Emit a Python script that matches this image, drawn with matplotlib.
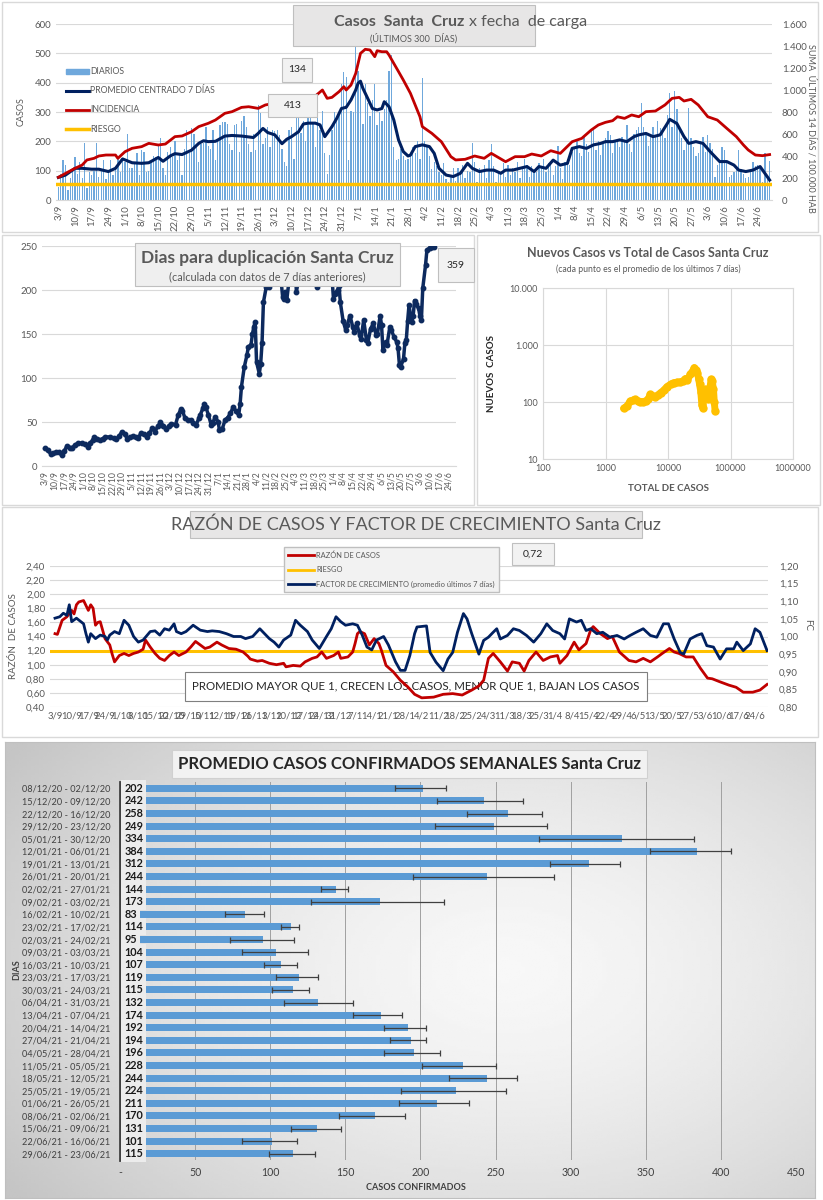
import numpy as np
import matplotlib
matplotlib.use('Agg')
import matplotlib.pyplot as plt
from matplotlib.patches import Rectangle
from matplotlib.lines import Line2D
from matplotlib.ticker import FuncFormatter

plt.rcParams['font.family'] = ['Lato', 'DejaVu Sans']

W, H = 823, 1200
GREY = '#595959'
NAVY = '#002060'
RED = '#c00000'
YEL = '#ffc000'
BLUE = '#5b9bd5'

# ================= datos =================
fechas = ['3/9', '10/9', '17/9', '24/9', '1/10', '8/10', '15/10', '22/10', '29/10', '5/11',
          '12/11', '19/11', '26/11', '3/12', '10/12', '17/12', '24/12', '31/12', '7/1', '14/1',
          '21/1', '28/1', '4/2', '11/2', '18/2', '25/2', '4/3', '11/3', '18/3', '25/3', '1/4',
          '8/4', '15/4', '22/4', '29/4', '6/5', '13/5', '20/5', '27/5', '3/6', '10/6', '17/6', '24/6']

# casos diarios (3/9/20 a 29/6/21), una semana por fila
diarios = [45, 90, 138, 120, 35, 75, 105,
           145, 90, 130, 75, 195, 40, 95,
           85, 100, 195, 80, 100, 135, 70,
           95, 135, 85, 110, 140, 95, 135,
           130, 225, 110, 108, 130, 160, 85,
           170, 165, 95, 100, 130, 150, 145,
           185, 210, 110, 85, 165, 180, 145,
           200, 135, 155, 85, 175, 240, 160,
           245, 225, 180, 130, 190, 195, 250,
           185, 175, 240, 135, 200, 255, 265,
           265, 260, 190, 170, 255, 260, 165,
           270, 285, 250, 190, 165, 225, 170,
           325, 295, 190, 210, 250, 180, 240,
           235, 240, 220, 175, 130, 115, 240,
           250, 140, 290, 280, 230, 270, 200,
           280, 290, 265, 180, 300, 240, 305,
           160, 90, 155, 240, 300, 270, 290,
           395, 435, 420, 135, 305, 300, 530,
           440, 410, 260, 395, 330, 285, 340,
           395, 255, 300, 270, 310, 340, 440,
           495, 180, 135, 140, 175, 150, 135,
           140, 150, 180, 160, 200, 140, 415,
           200, 180, 150, 105, 130, 115, 95,
           85, 125, 70, 60, 80, 110, 65,
           110, 95, 120, 75, 100, 95, 195,
           130, 60, 110, 95, 120, 75, 135,
           190, 115, 60, 100, 90, 125, 80,
           120, 85, 110, 95, 130, 75, 105,
           140, 120, 80, 115, 100, 95, 125,
           110, 140, 95, 125, 130, 85, 115,
           185, 110, 70, 130, 140, 120, 165,
           175, 200, 160, 150, 215, 190, 165,
           240, 240, 170, 200, 155, 190, 210,
           235, 220, 160, 205, 200, 180, 215,
           200, 255, 190, 165, 225, 240, 250,
           330, 250, 230, 185, 215, 250, 220,
           270, 245, 230, 210, 290, 365, 250,
           370, 310, 250, 210, 170, 205, 315,
           210, 180, 150, 160, 200, 215, 165,
           220, 195, 175, 80, 120, 135, 180,
           170, 130, 80, 85, 95, 105, 170,
           105, 90, 75, 80, 100, 130, 115,
           120, 110, 60, 160, 70, 134]

prom_dia = [0, 3, 7, 10, 14, 17, 21, 24, 27, 31, 35, 38, 42, 44, 47, 49, 52, 56, 59, 61, 63, 66, 70,
            73, 77, 80, 82, 84, 86, 88, 91, 94, 96, 98, 101, 103, 105, 108, 110, 112, 115, 117, 119,
            121, 123, 125, 126, 127, 128, 130, 132, 134, 136, 137, 139, 141, 143, 145, 147, 148, 150,
            153, 156, 158, 160, 163, 166, 169, 172, 174, 177, 180, 183, 186, 188, 191, 194, 197, 200,
            202, 205, 208, 211, 214, 216, 219, 222, 225, 228, 230, 233, 236, 239, 242, 244, 247, 250,
            253, 256, 257, 260, 263, 265, 268, 271, 274, 278, 281, 284, 286, 289, 292, 295, 297, 299]
prom_val = [77, 85, 108, 108, 105, 105, 97, 108, 140, 127, 125, 127, 145, 132, 150, 158, 155, 170, 193,
            202, 199, 200, 218, 220, 218, 215, 213, 227, 244, 230, 222, 192, 207, 216, 233, 259, 262,
            262, 256, 216, 250, 278, 312, 316, 341, 375, 398, 405, 381, 347, 312, 307, 312, 335, 318,
            273, 205, 165, 150, 153, 182, 188, 182, 159, 108, 85, 80, 91, 125, 108, 97, 102, 102, 91,
            102, 102, 108, 114, 97, 114, 108, 136, 119, 125, 176, 182, 176, 188, 193, 199, 199, 205,
            199, 216, 222, 227, 216, 222, 261, 275, 261, 216, 193, 199, 193, 165, 131, 131, 119, 102,
            97, 102, 114, 91, 68]

inc_dia = [0, 3, 7, 10, 12, 15, 17, 20, 24, 25, 28, 31, 35, 38, 42, 45, 49, 52, 56, 59, 63, 66, 70,
           73, 77, 80, 84, 87, 91, 95, 100, 105, 108, 111, 113, 115, 118, 120, 121, 123, 125, 127,
           129, 131, 133, 134, 136, 138, 139, 141, 143, 145, 148, 152, 153, 157, 161, 165, 167, 171,
           175, 179, 182, 188, 192, 196, 199, 203, 207, 211, 216, 220, 224, 227, 230, 233, 235, 238,
           241, 244, 247, 251, 255, 258, 261, 263, 266, 269, 273, 277, 281, 285, 288, 290, 293, 296, 299]
inc_val = [206, 242, 288, 318, 364, 379, 400, 409, 409, 379, 439, 470, 485, 515, 500, 509, 576, 582,
           621, 667, 697, 727, 788, 803, 842, 848, 833, 864, 880, 900, 915, 935, 945, 1000, 924, 933,
           985, 1030, 1000, 1045, 1151, 1333, 1370, 1364, 1303, 1357, 1348, 1348, 1318, 1242, 1167,
           1091, 970, 757, 667, 606, 530, 394, 364, 370, 400, 379, 424, 348, 394, 394, 418, 400, 448,
           424, 530, 560, 636, 682, 706, 721, 757, 742, 773, 757, 803, 809, 864, 924, 933, 900, 915,
           864, 757, 727, 651, 576, 500, 455, 409, 403, 413]
riesgo_inc = 150

dup_dia = [0, 2, 4, 6, 8, 10, 12, 14, 16, 18, 20, 22, 24, 27, 29, 31, 33, 35, 36, 38, 40, 42, 44, 47,
           50, 52, 54, 56, 58, 60, 62, 64, 66, 68, 70, 72, 74, 76, 78, 80, 82, 84, 86, 88, 90, 92, 95,
           97, 99, 100, 102, 104, 106, 108, 110, 112, 113, 115, 116, 117, 119, 121, 122, 124, 126, 127,
           129, 131, 133, 135, 137, 139, 141, 142, 143, 145, 147, 148, 150, 151, 152, 153, 154, 156,
           157, 158, 159, 161, 163, 165, 167, 169, 171, 173, 174, 175, 176, 178, 180, 182, 183, 185,
           187, 190, 192, 194, 196, 198, 200, 203, 205, 207, 209, 210, 211, 213, 214, 215, 217, 219,
           220, 222, 224, 225, 227, 229, 230, 232, 234, 235, 237, 239, 241, 242, 244, 245, 246, 248,
           249, 251, 252, 254, 256, 257, 258, 259, 261, 262, 263, 264, 265, 266, 267, 268, 269, 270,
           272, 273, 274, 275, 277, 278, 280, 282, 283]
dup_val = [20, 18, 14, 15, 15.5, 16, 12.5, 17, 23, 21, 21, 24, 26, 26, 24.6, 22, 26, 30, 33, 31, 29.5,
           31, 33, 33, 32, 30.6, 34, 39, 36, 31, 33, 34, 33, 32, 38, 36, 33, 37, 43, 39, 45, 49.5, 46,
           41.6, 45, 48, 47, 58, 65, 63, 54, 52, 52, 49, 47, 54, 58, 66, 71, 67, 58, 46.5, 49, 56, 50,
           41, 42, 52, 55, 60, 67, 62, 58, 70, 90, 112, 126, 135, 138, 150, 158, 164, 118, 105, 116,
           140, 186, 203, 203, 215, 232, 244, 225, 192, 190, 198, 189, 215, 238, 230, 198, 215, 240,
           247, 236, 225, 210, 203, 215, 238, 244, 226, 212, 190, 196, 200, 205, 186, 165, 154, 160,
           171, 158, 152, 162, 149, 144, 166, 143, 140, 156, 162, 149, 150, 171, 160, 132, 141, 138,
           158, 155, 147, 141, 134, 115, 113, 122, 140, 143, 165, 183, 172, 164, 170, 188, 184, 179,
           170, 166, 202, 228, 245, 248, 249, 249]
dup_ultimo = 359

total_casos = [1950, 2200, 2500, 2800, 3000, 3300, 3600, 4000, 4400, 4800, 5200, 5700, 6300, 7000,
               7600, 8500, 9600, 11000, 12300, 14000, 15700, 17500, 18900, 20500, 22700, 24500, 26300,
               28000, 29600, 31000, 32000, 33500, 34800, 36000, 37500, 39300, 41500, 44400, 47000,
               49000, 51000, 53400, 55000, 56800]
nuevos_casos = [77, 85, 104, 108, 111, 105, 100, 102, 104, 112, 136, 128, 124, 135, 146, 160, 186, 205,
                218, 222, 224, 235, 257, 240, 306, 340, 401, 360, 328, 250, 204, 150, 90, 79, 120, 167,
                140, 111, 180, 251, 230, 167, 100, 69]

razon_dia = [0, 1, 3, 5, 7, 8, 9, 10, 12, 14, 15, 16, 17, 18, 19, 21, 23, 24, 25, 27, 29, 31, 33, 35,
             37, 38, 40, 42, 44, 46, 48, 50, 52, 55, 57, 59, 61, 63, 65, 68, 70, 73, 76, 79, 81, 82,
             85, 87, 90, 93, 96, 97, 100, 103, 105, 108, 110, 112, 114, 117, 119, 120, 123, 125, 126,
             127, 128, 130, 132, 134, 136, 137, 139, 142, 145, 148, 151, 154, 159, 163, 167, 171, 175,
             178, 180, 182, 184, 187, 190, 192, 195, 197, 199, 202, 205, 208, 211, 212, 215, 218, 220,
             223, 225, 226, 229, 232, 234, 237, 241, 244, 247, 250, 253, 255, 258, 260, 262, 265, 268,
             271, 274, 276, 279, 283, 286, 289, 293, 296, 299]
razon_val = [1.44, 1.43, 1.63, 1.68, 1.77, 1.72, 1.85, 1.89, 1.91, 1.77, 1.85, 1.80, 1.56, 1.60, 1.61,
             1.37, 1.28, 1.15, 1.04, 1.13, 1.16, 1.13, 1.16, 1.18, 1.22, 1.35, 1.25, 1.16, 1.09, 1.06,
             1.13, 1.18, 1.13, 1.18, 1.25, 1.33, 1.28, 1.23, 1.25, 1.32, 1.28, 1.23, 1.22, 1.18, 1.12,
             1.08, 1.05, 1.06, 1.02, 1.00, 1.02, 0.97, 0.99, 0.98, 1.04, 1.09, 1.11, 1.18, 1.09, 1.13,
             1.18, 1.09, 1.11, 1.18, 1.30, 1.44, 1.47, 1.44, 1.28, 1.37, 1.30, 1.21, 0.99, 0.90, 0.78,
             0.69, 0.58, 0.53, 0.54, 0.58, 0.59, 0.57, 0.64, 0.70, 0.78, 1.09, 1.16, 1.04, 0.91, 1.04,
             1.02, 0.91, 1.06, 1.18, 1.06, 1.11, 1.13, 1.02, 1.13, 1.32, 1.21, 1.30, 1.50, 1.54, 1.44,
             1.37, 1.40, 1.18, 1.06, 1.04, 1.09, 1.04, 1.11, 1.16, 1.23, 1.18, 1.16, 1.11, 1.11, 0.95,
             0.81, 0.80, 0.76, 0.71, 0.68, 0.61, 0.61, 0.64, 0.72]
riesgo_razon = 1.2

fc_dia = [0, 2, 3.5, 5, 6, 7, 9, 12, 13, 14, 15, 17, 19, 21, 22, 23, 25, 27, 29, 31, 33, 35, 37, 40,
          42, 44, 46, 48, 50, 51, 53, 55, 58, 61, 64, 66, 69, 72, 75, 78, 80, 83, 86, 88, 90, 92, 94,
          96, 99, 101, 103, 106, 108, 111, 114, 116, 118, 120, 122, 125, 127, 129, 131, 133, 135, 138,
          140, 143, 145, 147, 149, 151, 152, 156, 157.5, 160, 163, 165, 167, 169, 171.5, 173, 175,
          178, 180, 182, 184, 185.5, 187, 190, 192.5, 195, 198, 201, 204, 206.5, 209, 212, 214, 216,
          219, 221, 223, 225, 227.5, 230, 233, 236, 239, 241.5, 244, 247, 250, 252.7, 255.5, 257.6,
          260, 262.5, 264, 266.7, 269.5, 271.6, 273.7, 276.5, 279.3, 282, 285, 286.3, 289, 292, 294,
          296, 299]
fc_val = [1.052, 1.056, 1.066, 1.06, 1.09, 1.042, 1.052, 1.036, 1.008, 0.984, 1.008, 0.994, 1.004, 1.0,
          0.99, 1.004, 1.014, 1.008, 1.046, 1.032, 1.0, 0.984, 0.99, 1.014, 1.016, 1.004, 1.022, 1.018,
          1.036, 1.014, 1.008, 1.014, 1.032, 1.018, 1.014, 1.016, 1.014, 1.008, 1.0, 1.0, 0.994, 1.0,
          1.022, 1.008, 0.994, 0.984, 0.97, 0.99, 1.004, 1.046, 1.032, 1.014, 0.99, 0.966, 1.0, 1.022,
          1.056, 1.042, 1.032, 1.036, 1.032, 1.004, 0.97, 0.962, 0.99, 1.0, 0.976, 0.928, 0.904, 0.904,
          0.946, 1.008, 1.027, 1.03, 0.955, 0.927, 0.903, 0.936, 0.955, 1.012, 1.065, 1.05, 1.008,
          0.95, 0.989, 0.998, 1.012, 1.022, 0.993, 1.003, 1.022, 1.017, 1.003, 0.984, 1.008, 1.036,
          1.017, 1.008, 0.993, 1.05, 1.041, 1.046, 1.017, 1.022, 1.008, 1.012, 0.998, 1.003, 0.993,
          1.003, 1.012, 1.022, 1.003, 0.998, 1.036, 1.036, 0.993, 0.955, 0.95, 0.993, 1.003, 1.008,
          0.974, 0.97, 0.936, 0.965, 0.965, 0.984, 0.96, 0.979, 1.022, 1.012, 0.96]

semanas = ['08/12/20 - 02/12/20', '15/12/20 - 09/12/20', '22/12/20 - 16/12/20', '29/12/20 - 23/12/20',
           '05/01/21 - 30/12/20', '12/01/21 - 06/01/21', '19/01/21 - 13/01/21', '26/01/21 - 20/01/21',
           '02/02/21 - 27/01/21', '09/02/21 - 03/02/21', '16/02/21 - 10/02/21', '23/02/21 - 17/02/21',
           '02/03/21 - 24/02/21', '09/03/21 - 03/03/21', '16/03/21 - 10/03/21', '23/03/21 - 17/03/21',
           '30/03/21 - 24/03/21', '06/04/21 - 31/03/21', '13/04/21 - 07/04/21', '20/04/21 - 14/04/21',
           '27/04/21 - 21/04/21', '04/05/21 - 28/04/21', '11/05/21 - 05/05/21', '18/05/21 - 12/05/21',
           '25/05/21 - 19/05/21', '01/06/21 - 26/05/21', '08/06/21 - 02/06/21', '15/06/21 - 09/06/21',
           '22/06/21 - 16/06/21', '29/06/21 - 23/06/21']
prom_sem = [202, 242, 258, 249, 334, 384, 312, 244, 144, 173, 83, 114, 95, 104, 107, 119, 115, 132,
            174, 192, 194, 196, 228, 244, 224, 211, 170, 131, 101, 115]
sem_min = [183, 211, 231, 210, 279, 353, 286, 195, 134, 127, 70, 107, 73, 81, 96, 104, 101, 109, 155,
           176, 180, 176, 201, 219, 187, 186, 146, 114, 81, 99]
sem_max = [217, 268, 281, 284, 382, 407, 333, 289, 152, 216, 96, 119, 116, 125, 118, 132, 126, 155,
           188, 204, 204, 213, 250, 264, 257, 232, 190, 147, 118, 130]


# ================= helpers =================
def px_axes(l, t, r, b, **kw):
    return fig.add_axes([l / W, 1 - b / H, (r - l) / W, (b - t) / H], **kw)


def caja(l, t, r, b, fc='#e7e6e6', ec='#bfbfbf', lw=0.8, z=5):
    fig.add_artist(Rectangle((l / W, 1 - b / H), (r - l) / W, (b - t) / H,
                             transform=fig.transFigure, facecolor=fc, edgecolor=ec, lw=lw, zorder=z))


def txt(x, y, s, **kw):
    kw.setdefault('zorder', 6)
    kw.setdefault('color', GREY)
    fig.text(x / W, 1 - y / H, s, **kw)


def miles(v, pos):
    return f'{int(v):,}'.replace(',', '.')


def coma(v, pos):
    return f'{v:.2f}'.replace('.', ',')


def limpiar(ax):
    for s in ax.spines.values():
        s.set_visible(False)
    ax.tick_params(length=0, colors=GREY)


fig = plt.figure(figsize=(W / 100, H / 100), dpi=100)
fig.patch.set_facecolor('white')

# marcos de los paneles
caja(2, 2, 818, 232, fc='none', ec='#d9d9d9', lw=1, z=1)
caja(2, 235, 474, 505, fc='none', ec='#d9d9d9', lw=1, z=1)
caja(477, 235, 820, 505, fc='none', ec='#d9d9d9', lw=1, z=1)
caja(2, 507, 818, 737, fc='none', ec='#d9d9d9', lw=1, z=1)

dias = np.arange(len(diarios))
sem_ticks = np.arange(len(fechas)) * 7

# ================= panel 1: casos diarios =================
ax1 = px_axes(56, 24, 772, 200)
ax1.bar(dias, diarios, width=0.55, color='#6fa8dc', zorder=2, label='DIARIOS')
ax1.plot(prom_dia, prom_val, color=NAVY, lw=2.2, zorder=4)
ax1.set_xlim(-1, 300)
ax1.set_ylim(0, 600)
ax1.set_yticks(range(0, 601, 100))
ax1.yaxis.grid(True, color='#d9d9d9', lw=0.8)
ax1.set_axisbelow(True)
ax1.set_xticks(sem_ticks)
ax1.set_xticklabels(fechas, rotation=90, fontsize=6.8)
limpiar(ax1)
ax1.spines['bottom'].set_visible(True)
ax1.spines['bottom'].set_color('#d9d9d9')
ax1.tick_params(axis='y', labelsize=7)
ax1.set_ylabel('CASOS', fontsize=6.5, color=GREY, labelpad=6)

ax1r = ax1.twinx()
ax1r.plot(inc_dia, inc_val, color=RED, lw=2)
ax1r.axhline(riesgo_inc, color=YEL, lw=2.5)
ax1r.set_ylim(0, 1600)
ax1r.set_yticks(range(0, 1601, 200))
ax1r.yaxis.set_major_formatter(FuncFormatter(miles))
limpiar(ax1r)
ax1r.tick_params(axis='y', labelsize=7, pad=7)
txt(811, 128, 'SUMA  ÚLTIMOS 14 DÍAS / 100.000 HAB', rotation=270, fontsize=6.5,
    ha='center', va='center')

leg1 = [Rectangle((0, 0), 1, 1, color='#6fa8dc'),
        Line2D([], [], color=NAVY, lw=2.2),
        Line2D([], [], color=RED, lw=2),
        Line2D([], [], color=YEL, lw=2.5)]
fig.legend(leg1, ['DIARIOS', 'PROMEDIO CENTRADO 7 DÍAS', 'INCIDENCIA', 'RIESGO'],
           loc='upper left', bbox_to_anchor=(62 / W, 1 - 63 / H), frameon=False,
           fontsize=6.3, labelspacing=1.15, handlelength=2.6, handleheight=0.6,
           handletextpad=0.1, borderpad=0, labelcolor=GREY)

caja(293, 5, 535, 46)
txt(464, 22, 'Casos  Santa  Cruz', fontsize=11.5, weight='bold', ha='right', va='center')
txt(469, 22, 'x fecha  de carga', fontsize=11.5, ha='left', va='center')
txt(414, 38, '(ÚLTIMOS 300  DÍAS)', fontsize=6.5, ha='center', va='center')
caja(282, 58, 312, 82, fc='#f2f2f2')
txt(297, 70, str(diarios[-1]), fontsize=7.5, color='#262626', ha='center', va='center')
caja(268, 94, 317, 117, fc='#f2f2f2')
txt(292.5, 105.5, str(inc_val[-1]), fontsize=7.5, color='#262626', ha='center', va='center')

# ================= panel 2: dias para duplicacion =================
ax2 = px_axes(42, 246, 456, 466)
ax2.plot(dup_dia, dup_val, color='#0d2a5e', lw=2.5, marker='o', ms=3.2, zorder=3)
ax2.set_xlim(-2.2, 299.2)
ax2.set_ylim(0, 250)
ax2.set_yticks(range(0, 251, 50))
ax2.yaxis.grid(True, color='#d9d9d9', lw=0.8)
ax2.set_axisbelow(True)
ax2.set_xticks(sem_ticks)
ax2.set_xticklabels(fechas, rotation=90, fontsize=6.2)
limpiar(ax2)
ax2.spines['bottom'].set_visible(True)
ax2.spines['bottom'].set_color('#d9d9d9')
ax2.tick_params(axis='y', labelsize=7)

caja(135, 243, 400, 286, fc='#efefef')
txt(267.5, 258, 'Dias para duplicación Santa Cruz', fontsize=12.5, weight='bold',
    ha='center', va='center')
txt(267.5, 277, '(calculada con datos de 7 días anteriores)', fontsize=7.8, ha='center', va='center')
caja(438, 248, 474, 282, fc='#f2f2f2')
txt(456, 265, str(dup_ultimo), fontsize=7.5, color='#262626', ha='center', va='center')

# ================= panel 3: nuevos vs total =================
ax3 = px_axes(543, 288, 793, 459)
ax3.plot(total_casos, nuevos_casos, color=YEL, lw=5, marker='o', ms=5,
         solid_capstyle='round')
ax3.set_xscale('log')
ax3.set_yscale('log')
ax3.set_xlim(100, 1e6)
ax3.set_ylim(10, 1e4)
ax3.set_xticks([100, 1000, 10000, 100000, 1000000])
ax3.set_xticklabels(['100', '1000', '10000', '100000', '1000000'])
ax3.set_yticks([10, 100, 1000, 10000])
ax3.set_yticklabels(['10', '100', '1.000', '10.000'])
ax3.minorticks_off()
ax3.grid(True, color='#d9d9d9', lw=0.8)
ax3.set_axisbelow(True)
for s in ax3.spines.values():
    s.set_color('#d9d9d9')
ax3.tick_params(length=0, colors=GREY, labelsize=6.5)
ax3.set_xlabel('TOTAL DE CASOS', fontsize=7, weight='bold', color=GREY, labelpad=8)
ax3.set_ylabel('NUEVOS  CASOS', fontsize=7, weight='bold', color='#262626', labelpad=10)
txt(648, 253, 'Nuevos Casos vs Total de Casos Santa Cruz', fontsize=9, weight='bold',
    ha='center', va='center')
txt(648, 269, '(cada punto es el promedio de los últimos 7 días)', fontsize=6.2,
    ha='center', va='center')

# ================= panel 4: razon y factor de crecimiento =================
ax4 = px_axes(50, 566, 768, 707)
# cuadro de texto por debajo de las curvas
ax4.add_patch(Rectangle((185 / W, 1 - 701 / H), 462 / W, 29 / H, transform=fig.transFigure,
                        facecolor='white', edgecolor='#7f7f7f', lw=0.8, zorder=1, clip_on=False))
ax4.text(416 / W, 1 - 687 / H, 'PROMEDIO MAYOR QUE 1, CRECEN LOS CASOS, MENOR QUE 1, BAJAN LOS CASOS',
         transform=fig.transFigure, fontsize=8.3, color='#262626', ha='center', va='center',
         zorder=1.5)
ax4.plot(razon_dia, razon_val, color=RED, lw=2, zorder=3)
ax4.axhline(riesgo_razon, color=YEL, lw=2.2, zorder=2)
ax4.set_xlim(-2.1, 299.4)
ax4.set_ylim(0.4, 2.4)
ax4.set_yticks(np.arange(0.4, 2.41, 0.2))
ax4.yaxis.set_major_formatter(FuncFormatter(coma))
ax4.yaxis.grid(True, color='#d9d9d9', lw=0.8)
ax4.set_axisbelow(True)
ax4.set_xticks(sem_ticks)
ax4.set_xticklabels(fechas, fontsize=6.8)
limpiar(ax4)
ax4.tick_params(axis='y', labelsize=7)
ax4.set_ylabel('RAZÓN  DE CASOS', fontsize=7, color=GREY, labelpad=6)

ax4r = ax4.twinx()
ax4r.plot(fc_dia, fc_val, color=NAVY, lw=2)
ax4r.set_ylim(0.8, 1.2)
ax4r.set_yticks(np.arange(0.8, 1.201, 0.05))
ax4r.yaxis.set_major_formatter(FuncFormatter(coma))
limpiar(ax4r)
ax4r.tick_params(axis='y', labelsize=7, pad=8)
txt(808, 625, 'FC', rotation=270, fontsize=7, ha='center', va='center')

caja(190, 511, 642, 538)
txt(416, 525, 'RAZÓN DE CASOS Y FACTOR DE CRECIMIENTO Santa Cruz', fontsize=13,
    ha='center', va='center')
leg4 = [Line2D([], [], color=RED, lw=2), Line2D([], [], color=YEL, lw=2),
        Line2D([], [], color=NAVY, lw=2)]
lg = fig.legend(leg4, ['RAZÓN DE CASOS', 'RIESGO', 'FACTOR DE CRECIMIENTO (promedio últimos 7 días)'],
                loc='upper left', bbox_to_anchor=(280 / W, 1 - 543 / H), fontsize=5.4,
                frameon=True, fancybox=False, edgecolor='#bfbfbf', facecolor='#f2f2f2',
                framealpha=1, labelspacing=1.0, handlelength=3.4, handletextpad=0.3,
                borderpad=0.6, labelcolor=GREY)
lg.set_zorder(5)
caja(512, 543, 554, 565, fc='#f2f2f2')
txt(533, 554, coma(razon_val[-1], 0), fontsize=7.5, color='#262626', ha='center', va='center')

# ================= panel 5: promedio semanal =================
bg = px_axes(5, 742, 815, 1198, zorder=-1)
yy, xx = np.mgrid[0:1:200j, 0:1:200j]
r = np.sqrt(((xx - 0.62) / 0.75) ** 2 + ((yy - 0.5) / 0.85) ** 2)
bg.imshow(0.97 - 0.2 * np.clip(r, 0, 1) ** 1.5, cmap='gray', vmin=0, vmax=1,
          aspect='auto', extent=(0, 1, 0, 1))
bg.set_xticks([])
bg.set_yticks([])
for s in bg.spines.values():
    s.set_color('#bfbfbf')

ax5 = px_axes(120, 782, 796, 1160)
ax5.patch.set_alpha(0)
pos = np.arange(len(semanas))
ax5.barh(pos, prom_sem, height=0.55, color=BLUE, zorder=2)
lo = np.array(prom_sem) - np.array(sem_min)
hi = np.array(sem_max) - np.array(prom_sem)
ax5.errorbar(prom_sem, pos, xerr=[lo, hi], fmt='none', ecolor='#404040', elinewidth=0.9,
             capsize=2.5, capthick=0.9, zorder=3)
for i, v in enumerate(prom_sem):
    ax5.text(2.8, i, str(v), fontsize=7.8, weight='bold', color='#1a1a1a', va='center',
             ha='left', zorder=4,
             bbox=dict(boxstyle='square,pad=0.28', fc='#ececec', ec='none'))
ax5.set_xlim(0, 450)
ax5.set_ylim(len(semanas) - 0.5, -0.5)
ax5.set_xticks(range(0, 451, 50))
ax5.set_xticklabels(['-'] + [str(v) for v in range(50, 451, 50)])
ax5.set_yticks(pos)
ax5.set_yticklabels(semanas, fontsize=6.6, color='#404040')
ax5.xaxis.grid(True, color='#a0a0a0', lw=0.7)
ax5.set_axisbelow(True)
for s in ax5.spines.values():
    s.set_visible(False)
ax5.spines['left'].set_visible(True)
ax5.spines['left'].set_color('#404040')
ax5.spines['left'].set_linewidth(2)
ax5.tick_params(length=0, colors='#404040', labelsize=7.6)
ax5.tick_params(axis='y', pad=7, labelsize=6.6)
ax5.tick_params(axis='x', pad=5)
txt(416, 1188, 'CASOS CONFIRMADOS', fontsize=6.5, weight='bold', color='#404040',
    ha='center', va='center')
txt(17, 970, 'DIAS', fontsize=6.5, weight='bold', color='#404040', rotation=90,
    ha='center', va='center')
caja(172, 750, 647, 778, fc='#f2f2f2', ec='#d0d0d0')
txt(410, 764, 'PROMEDIO CASOS CONFIRMADOS SEMANALES Santa Cruz', fontsize=12,
    weight='bold', color='#262626', ha='center', va='center')

fig.savefig('out.png', dpi=100)
